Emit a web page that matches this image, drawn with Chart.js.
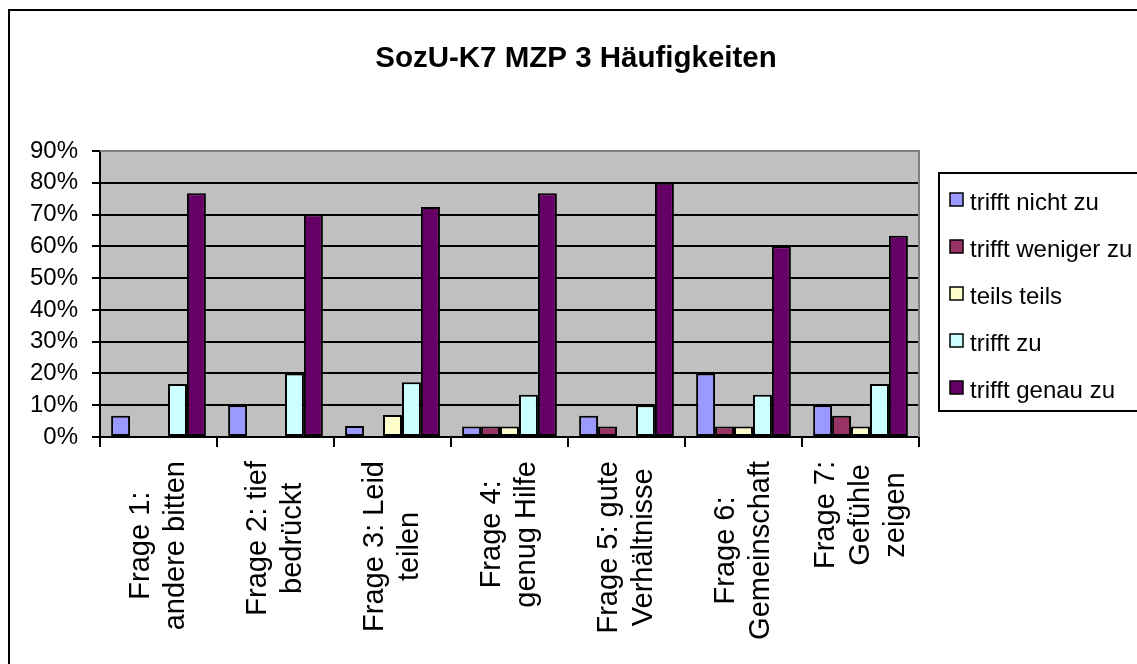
<!DOCTYPE html>
<html lang="de">
<head>
<meta charset="utf-8">
<title>SozU-K7 MZP 3 Häufigkeiten</title>
<script src="https://cdn.jsdelivr.net/npm/chart.js@4"></script>
<style>
  html, body { margin: 0; padding: 0; background: #fff; }
  #caja { width: 1137px; height: 664px; }
</style>
</head>
<body>
<div id="caja"><canvas id="barras" width="1137" height="664"></canvas></div>
<script>
// ******************************* DATOS ****************************
const titulo = "SozU-K7 MZP 3 Häufigkeiten";

const categorias = [
  ["Frage 1:", "andere bitten"],
  ["Frage 2: tief", "bedrückt"],
  ["Frage 3: Leid", "teilen"],
  ["Frage 4:", "genug Hilfe"],
  ["Frage 5: gute", "Verhältnisse"],
  ["Frage 6:", "Gemeinschaft"],
  ["Frage 7:", "Gefühle", "zeigen"],
];

const series = ["trifft nicht zu", "trifft weniger zu", "teils teils", "trifft zu", "trifft genau zu"];

// porcentajes
const trifftNichtZu = [6.67, 10, 3.45, 3.33, 6.67, 20, 10];
const trifftWenigerZu = [0, 0, 0, 3.33, 3.33, 3.33, 6.67];
const teilsTeils = [0, 0, 6.9, 3.33, 0, 3.33, 3.33];
const trifftZu = [16.67, 20, 17.24, 13.33, 10, 13.33, 16.67];
const trifftGenauZu = [76.67, 70, 72.41, 76.67, 80, 60, 63.33];

const ticksY = [0, 10, 20, 30, 40, 50, 60, 70, 80, 90];

const colores = ["#9999FF", "#993366", "#FFFFCC", "#CCFFFF", "#660066"];

const fuente = "'Liberation Sans', Arial, sans-serif";

// ************************* PLUGIN: FONDO, MARCO, TÍTULO, LEYENDA *******************
const marco = {
  id: "marco",
  beforeDraw(chart) {
    const ctx = chart.ctx;
    const a = chart.chartArea;
    ctx.save();
    ctx.fillStyle = "#fff";
    ctx.fillRect(0, 0, chart.width, chart.height);
    ctx.fillStyle = "#C0C0C0";
    ctx.fillRect(a.left, a.top, a.right - a.left, a.bottom - a.top);
    ctx.restore();
  },
  afterDraw(chart) {
    const ctx = chart.ctx;
    const a = chart.chartArea;
    ctx.save();

    // borde gris del área de trazado (arriba y derecha)
    ctx.strokeStyle = "#808080";
    ctx.lineWidth = 2;
    ctx.beginPath();
    ctx.moveTo(a.left, a.top);
    ctx.lineTo(a.right, a.top);
    ctx.lineTo(a.right, a.bottom);
    ctx.stroke();

    // marco exterior
    ctx.strokeStyle = "#000";
    ctx.lineWidth = 2;
    ctx.strokeRect(9, 10, 1200, 700);

    // título
    ctx.fillStyle = "#000";
    ctx.font = "bold 29.5px " + fuente;
    ctx.textAlign = "center";
    ctx.textBaseline = "alphabetic";
    ctx.fillText(titulo, 576, 67);

    // leyenda
    ctx.lineWidth = 2;
    ctx.strokeRect(939, 173, 240, 238);
    ctx.font = "24px " + fuente;
    ctx.textAlign = "left";
    chart.data.datasets.forEach(function (ds, i) {
      const base = 210 + i * 47;
      ctx.fillStyle = ds.backgroundColor;
      ctx.fillRect(950, base - 17, 13, 13);
      ctx.lineWidth = 1.5;
      ctx.strokeRect(950, base - 17, 13, 13);
      ctx.fillStyle = "#000";
      ctx.fillText(ds.label, 970, base);
    });

    // etiquetas del eje X, giradas
    const x = chart.scales.x;
    ctx.font = "29px " + fuente;
    ctx.textAlign = "center";
    ctx.textBaseline = "middle";
    chart.data.labels.forEach(function (lineas, i) {
      const cx = x.getPixelForValue(i);
      let maxW = 0;
      lineas.forEach(function (l) {
        maxW = Math.max(maxW, ctx.measureText(l).width);
      });
      lineas.forEach(function (l, j) {
        ctx.save();
        ctx.translate(cx + (j - (lineas.length - 1) / 2) * 35, a.bottom + 24 + maxW / 2);
        ctx.rotate(-Math.PI / 2);
        ctx.fillText(l, 0, 0);
        ctx.restore();
      });
    });

    ctx.restore();
  },
};

// *********************************** GRÁFICO *********************************
function cargaGrafico() {
  const valores = [trifftNichtZu, trifftWenigerZu, teilsTeils, trifftZu, trifftGenauZu];

  var datos = {
    labels: categorias,
    datasets: series.map(function (nombre, i) {
      return {
        label: nombre,
        data: valores[i],
        backgroundColor: colores[i],
        borderColor: "#000",
        borderWidth: 2,
        borderSkipped: false,
        categoryPercentage: 0.81,
        barPercentage: 1,
      };
    }),
  };

  new Chart(document.getElementById("barras"), {
    type: "bar",
    data: datos,
    options: {
      responsive: false,
      animation: false,
      layout: { padding: { top: 151, right: 218, left: 0, bottom: 0 } },
      plugins: {
        legend: { display: false },
        title: { display: false },
        tooltip: { enabled: false },
      },
      scales: {
        x: {
          ticks: { display: false },
          grid: {
            offset: true,
            drawOnChartArea: false,
            drawTicks: true,
            tickLength: 10,
            color: "#000",
            lineWidth: 2,
          },
          border: { color: "#000", width: 2 },
          afterFit: function (scale) {
            scale.height = 227;
          },
        },
        y: {
          min: 0,
          max: 90,
          afterBuildTicks: function (scale) {
            scale.ticks = ticksY.map(function (v) {
              return { value: v };
            });
          },
          ticks: {
            autoSkip: false,
            callback: function (v) {
              return v + "%";
            },
            color: "#000",
            font: { family: fuente, size: 24 },
            padding: 14,
          },
          grid: { color: "#000", lineWidth: 2, tickLength: 8 },
          border: { color: "#000", width: 2 },
          afterFit: function (scale) {
            scale.width = 100;
          },
        },
      },
    },
    plugins: [marco],
  });
}

cargaGrafico();
</script>
</body>
</html>
